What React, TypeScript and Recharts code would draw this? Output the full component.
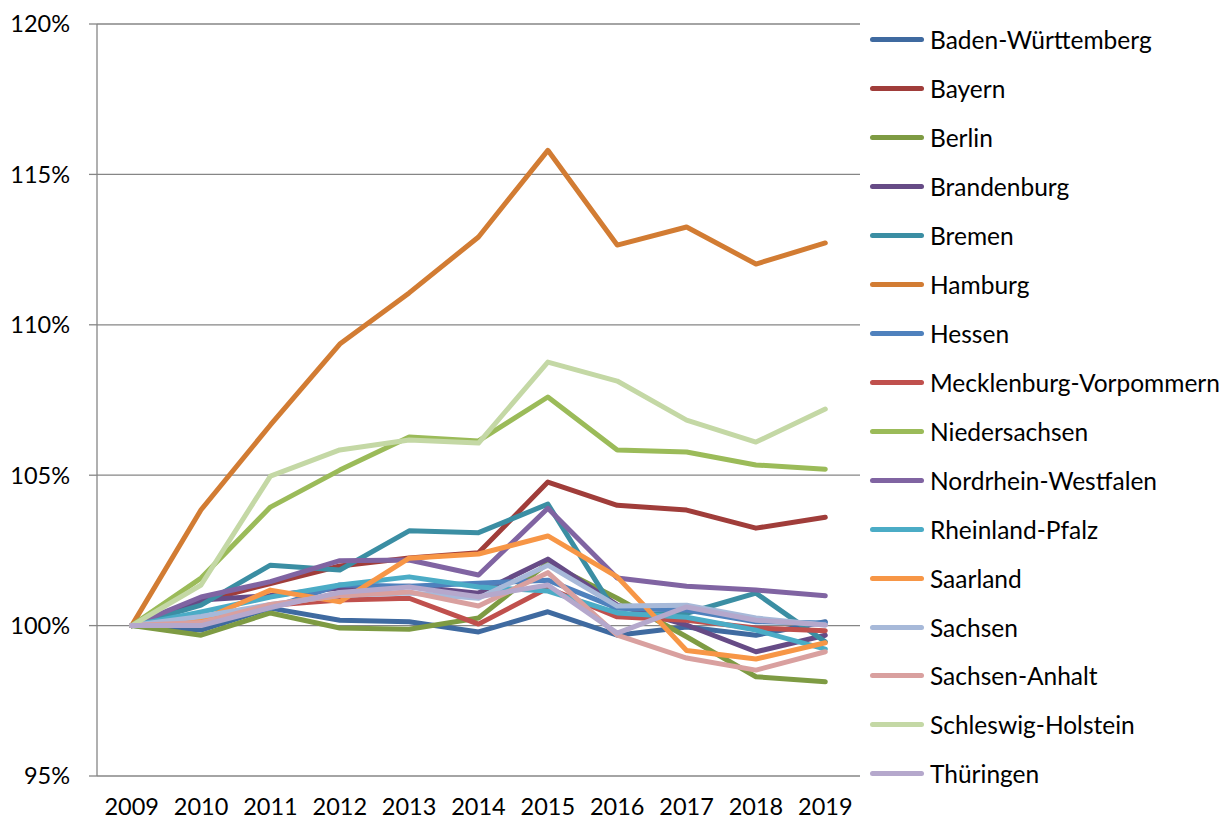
import React from 'react';
import { LineChart, Line, XAxis, YAxis, CartesianGrid, Legend } from 'recharts';

const years = ['2009', '2010', '2011', '2012', '2013', '2014', '2015', '2016', '2017', '2018', '2019'];
const yTicks = [95, 100, 105, 110, 115, 120];
const frameTicks = [0, 1, 2, 3, 4, 5, 6, 7, 8, 9, 10, 11];

// index values, 2009 = 100%
const badenWuerttemberg = [100, 99.85, 100.58, 100.18, 100.13, 99.79, 100.46, 99.68, 99.95, 99.68, 100.13];
const bayern = [100, 100.8, 101.4, 101.98, 102.25, 102.42, 104.77, 104.0, 103.84, 103.24, 103.6];
const berlin = [100, 99.68, 100.42, 99.92, 99.88, 100.25, 102.08, 100.91, 99.63, 98.3, 98.13];
const brandenburg = [100, 100.85, 101.0, 101.25, 101.31, 101.08, 102.21, 100.68, 100.02, 99.13, 99.68];
const bremen = [100, 100.68, 102.01, 101.85, 103.15, 103.09, 104.04, 100.35, 100.41, 101.08, 99.46];
const hamburg = [100, 103.85, 106.67, 109.36, 111.06, 112.92, 115.8, 112.65, 113.25, 112.02, 112.72];
const hessen = [100, 100.3, 100.58, 101.35, 101.31, 101.41, 101.51, 100.58, 100.52, 100.13, 100.09];
const mecklenburgVorpommern = [100, 100.15, 100.68, 100.85, 100.91, 100.05, 101.25, 100.29, 100.18, 99.92, 99.83];
const niedersachsen = [100, 101.58, 103.94, 105.17, 106.27, 106.14, 107.6, 105.84, 105.77, 105.34, 105.2];
const nordrheinWestfalen = [100, 100.95, 101.46, 102.16, 102.18, 101.68, 103.9, 101.58, 101.31, 101.18, 100.99];
const rheinlandPfalz = [100, 100.45, 100.95, 101.35, 101.62, 101.28, 101.15, 100.42, 100.28, 99.85, 99.22];
const saarland = [100, 100.18, 101.18, 100.79, 102.24, 102.38, 102.98, 101.62, 99.17, 98.89, 99.43];
const sachsen = [100, 100.3, 100.7, 101.0, 101.08, 100.91, 102.01, 100.65, 100.68, 100.25, 100.02];
const sachsenAnhalt = [100, 100.1, 100.7, 101.0, 101.12, 100.65, 101.76, 99.68, 98.92, 98.52, 99.13];
const schleswigHolstein = [100, 101.35, 104.97, 105.84, 106.17, 106.07, 108.76, 108.13, 106.83, 106.1, 107.2];
const thueringen = [100, 100.0, 100.6, 101.1, 101.28, 100.96, 101.35, 99.75, 100.62, 100.18, 100.02];

const series = [
  { name: 'Baden-Württemberg', values: badenWuerttemberg, color: '#3f6aa0' },
  { name: 'Bayern', values: bayern, color: '#a03d3a' },
  { name: 'Berlin', values: berlin, color: '#7e9b43' },
  { name: 'Brandenburg', values: brandenburg, color: '#664b86' },
  { name: 'Bremen', values: bremen, color: '#3b8ea3' },
  { name: 'Hamburg', values: hamburg, color: '#d27c33' },
  { name: 'Hessen', values: hessen, color: '#4f81bd' },
  { name: 'Mecklenburg-Vorpommern', values: mecklenburgVorpommern, color: '#c0504d' },
  { name: 'Niedersachsen', values: niedersachsen, color: '#9bbb59' },
  { name: 'Nordrhein-Westfalen', values: nordrheinWestfalen, color: '#8064a2' },
  { name: 'Rheinland-Pfalz', values: rheinlandPfalz, color: '#4bacc6' },
  { name: 'Saarland', values: saarland, color: '#f79646' },
  { name: 'Sachsen', values: sachsen, color: '#a7b9d9' },
  { name: 'Sachsen-Anhalt', values: sachsenAnhalt, color: '#d9a09f' },
  { name: 'Schleswig-Holstein', values: schleswigHolstein, color: '#c4d8a5' },
  { name: 'Thüringen', values: thueringen, color: '#b5a8cc' },
];

const data = years.map((year, i) => {
  const row: Record<string, string | number> = { year };
  series.forEach((s) => {
    row[s.name] = s.values[i];
  });
  return row;
});

const FONT = 'Lato, "Noto Sans", sans-serif';
const AXIS = '#868686';

const LegendList = ({ payload }: any) => (
  <div style={{ fontFamily: FONT, fontSize: 24.5, color: '#000' }}>
    {(payload || []).map((entry: any) => (
      <div key={entry.value} style={{ height: 48.93, display: 'flex', alignItems: 'center' }}>
        <span
          style={{
            display: 'inline-block',
            width: 54,
            height: 5,
            borderRadius: 3,
            background: entry.color,
            marginLeft: 10,
            marginRight: 6,
          }}
        />
        <span style={{ whiteSpace: 'nowrap' }}>{entry.value}</span>
      </div>
    ))}
  </div>
);

export default function App() {
  return (
    <div style={{ position: 'absolute', left: 0, top: 0, background: '#fff' }}>
      <LineChart width={1226} height={820} data={data} margin={{ top: 24, right: 0, bottom: 0, left: 0 }}>
        <CartesianGrid vertical={false} stroke={AXIS} strokeWidth={1.3} />
        <XAxis
          xAxisId="frame"
          type="number"
          domain={[0, 11]}
          ticks={frameTicks}
          tick={false}
          height={0}
          stroke={AXIS}
          strokeWidth={1.3}
          tickSize={8}
        />
        <XAxis
          dataKey="year"
          height={44}
          axisLine={false}
          tickLine={false}
          tickSize={0}
          tickMargin={22}
          padding={{ left: 34.7, right: 34.7 }}
          interval={0}
          tick={{ fontFamily: FONT, fontSize: 23.5, fill: '#000' }}
        />
        <YAxis
          width={97}
          domain={[95, 120]}
          ticks={yTicks}
          tickFormatter={(v) => `${v}%`}
          stroke={AXIS}
          strokeWidth={1.3}
          tickSize={8}
          tickMargin={19}
          tick={{ fontFamily: FONT, fontSize: 23.5, fill: '#000' }}
          allowDataOverflow
        />
        <Legend
          layout="vertical"
          align="right"
          verticalAlign="top"
          content={<LegendList />}
          wrapperStyle={{ width: 366, top: 15.5, right: 0 }}
        />
        {series.map((s) => (
          <Line
            key={s.name}
            type="linear"
            dataKey={s.name}
            stroke={s.color}
            strokeWidth={5}
            strokeLinejoin="round"
            strokeLinecap="round"
            dot={false}
            activeDot={false}
            isAnimationActive={false}
          />
        ))}
      </LineChart>
    </div>
  );
}
